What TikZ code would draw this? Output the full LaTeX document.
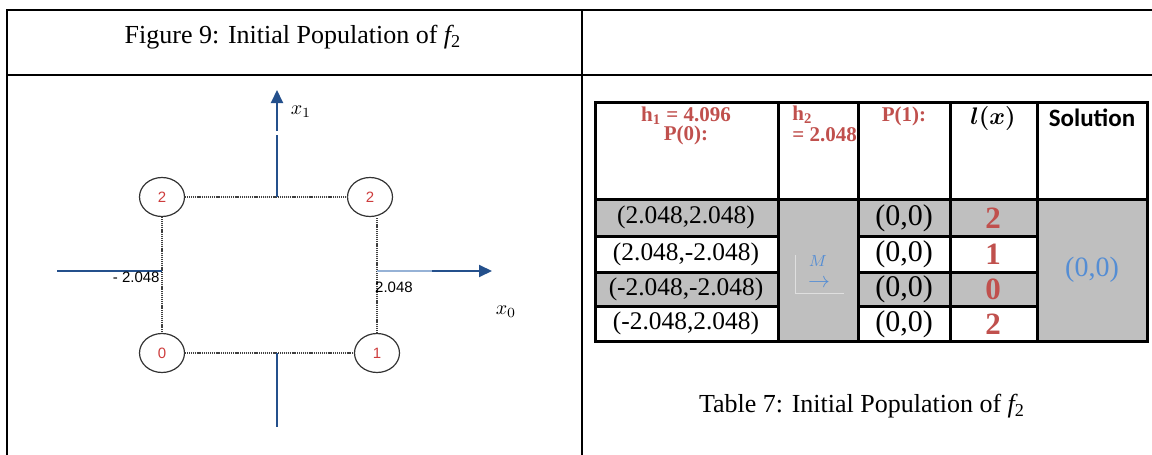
\documentclass[tikz,border=0pt]{standalone}
\usepackage{fontspec}
\setmainfont{Liberation Serif}
\newfontfamily\sansf{Liberation Sans}
\newfontfamily\carl{Carlito}
\usepackage{amsmath}
\usetikzlibrary{shapes.geometric,arrows.meta}
\definecolor{axisblue}{RGB}{36,80,140}
\definecolor{axislight}{RGB}{150,178,214}
\definecolor{ptred}{RGB}{205,60,60}
\definecolor{hred}{RGB}{192,80,77}
\definecolor{solblue}{RGB}{84,141,212}
\definecolor{cellgray}{RGB}{191,191,191}
\begin{document}
\begin{tikzpicture}[x=0.5pt,y=-0.5pt,
  outerline/.style={line width=1pt,black},
  tb/.style={line width=1.5pt,black},
  dotl/.style={line width=0.75pt,gray!50!black,dash pattern=on 0.55pt off 0.4pt},
  ptnode/.style={ellipse,draw=gray!40!black,line width=0.6pt,minimum width=22.5pt,minimum height=19.5pt,inner sep=0pt,font=\sansf\fontsize{7.5}{9}\selectfont,text=ptred},
  axisln/.style={line width=1pt,axisblue},
  tip/.style={-{Triangle[width=6pt,length=6.5pt]}},
  capt/.style={inner sep=0pt,font=\fontsize{13}{15}\selectfont},
  lab/.style={inner sep=0pt,font=\sansf\fontsize{7.5}{9}\selectfont},
  hred/.style={inner sep=0pt,text=hred,font=\bfseries\fontsize{10.5}{12}\selectfont},
  ctext/.style={inner sep=0pt,font=\fontsize{12.7}{14}\selectfont},
  ztext/.style={inner sep=0pt,font=\fontsize{15}{17}\selectfont},
  dtext/.style={inner sep=0pt,text=hred,font=\bfseries\fontsize{15.5}{17}\selectfont}
]
\useasboundingbox (0,0) rectangle (1152,455);
% outer frame
\draw[outerline] (6.5,455) -- (6.5,10) -- (1152,10);
\draw[outerline] (582,10) -- (582,455);
\draw[outerline] (6.5,75) -- (1152,75);
% captions
\node[capt] (figcap) at (293,37) {Figure 9: Initial Population of {\itshape f}\textsubscript{2}};
\node[capt] (tabcap) at (862,406) {Table 7: Initial Population of {\itshape f}\textsubscript{2}};
% figure points
\node[ptnode] (tl) at (162,197) {2};
\node[ptnode] (tr) at (370,197) {2};
\node[ptnode] (bl) at (162,353) {0};
\node[ptnode] (br) at (377,353) {1};
\draw[dotl] (tl.east) -- (tr.west);
\draw[dotl] (bl.east) -- (br.west);
\draw[dotl] (tl.south) -- (bl.north);
\draw[dotl] (br.north) -- (br.north |- tr.south);
% axes
\coordinate (ytop) at (277,90);
\coordinate (ygapa) at (277,135);
\coordinate (ygapb) at (277,131);
\coordinate (ybot) at (277,427);
\draw[axisln] (tl.east -| ygapa) -- (ygapa);
\draw[axisln,tip] (ygapb) -- (ytop);
\draw[axisln] (bl.east -| ybot) -- (ybot);
\coordinate (xleft) at (57,271);
\coordinate (xmid) at (432,271);
\coordinate (xtip) at (492,271);
\draw[axisln] (xleft) -- (xleft -| tl.south);
\draw[line width=0.6pt,axislight] (xmid -| br.north) -- (xmid);
\draw[axisln,tip] (xmid) -- (xtip);
\node[inner sep=0pt] (lxone) at (301,112) {\fontsize{10}{12}\selectfont$x_1$};
\node[inner sep=0pt] (lxzero) at (506,312) {\fontsize{10}{12}\selectfont$x_0$};
\node[lab,anchor=east] (lminus) at (160,277) {- 2.048};
\node[lab] (lplus) at (394,287) {2.048};
% table fills
\fill[cellgray] (595,199) rectangle (778,236);
\fill[cellgray] (595,272) rectangle (778,306);
\fill[cellgray] (778,199) rectangle (858,341);
\fill[cellgray] (858,199) rectangle (1037,236);
\fill[cellgray] (858,272) rectangle (1037,306);
\fill[cellgray] (1037,199) rectangle (1147,341);
% table lines
\draw[tb] (595,102) rectangle (1147,341);
\draw[tb] (595,199) -- (1147,199);
\foreach \xx in {778,858,950,1037} {\draw[tb] (\xx,102) -- (\xx,341);}
\foreach \yy in {236,272,306} {\draw[tb] (595,\yy) -- (778,\yy); \draw[tb] (858,\yy) -- (1037,\yy);}
% header
\node[hred] (hone) at (686,116) {h\textsubscript{1} = 4.096};
\node[hred] (pzero) at (686,135) {P(0):};
\begin{scope}
\clip (778,102) rectangle (856,199);
\node[hred,anchor=west] (htwo) at (792,115) {h\textsubscript{2}};
\node[hred,anchor=west] (htwob) at (792,135) {= 2.048};
\end{scope}
\node[hred] (pone) at (904,116) {P(1):};
\node[inner sep=0pt] (lxh) at (993,118) {\fontsize{12}{14}\selectfont$\boldsymbol{l(x)}$};
\node[inner sep=0pt] (sol) at (1092,118) {\carl\bfseries\fontsize{12.5}{14}\selectfont Solution};
% body
\node[ctext] (aone) at (686,217.5) {(2.048,2.048)};
\node[ctext] (atwo) at (686,254) {(2.048,-2.048)};
\node[ctext] (athree) at (686,289) {(-2.048,-2.048)};
\node[ctext] (afour) at (686,323.5) {(-2.048,2.048)};
\node[ztext] (bone) at (904,218) {(0,0)};
\node[ztext] (btwo) at (904,254.5) {(0,0)};
\node[ztext] (bthree) at (904,289.5) {(0,0)};
\node[ztext] (bfour) at (904,324) {(0,0)};
\node[dtext] (done) at (993,218) {2};
\node[dtext] (dtwo) at (993,254.5) {1};
\node[dtext] (dthree) at (993,289.5) {0};
\node[dtext] (dfour) at (993,324) {2};
\draw[gray!25,line width=0.5pt] (795,255) -- (795,293) -- (844,293);
\node[inner sep=0pt,text=solblue] (mlab) at (818,261) {\fontsize{8.5}{10}\selectfont$M$};
\node[inner sep=0pt,text=solblue] (marr) at (819,283) {\fontsize{11}{12}\selectfont$\rightarrow$};
\node[inner sep=0pt,text=solblue] (solv) at (1092,270) {\fontsize{14}{16}\selectfont (0,0)};
\end{tikzpicture}
\end{document}
